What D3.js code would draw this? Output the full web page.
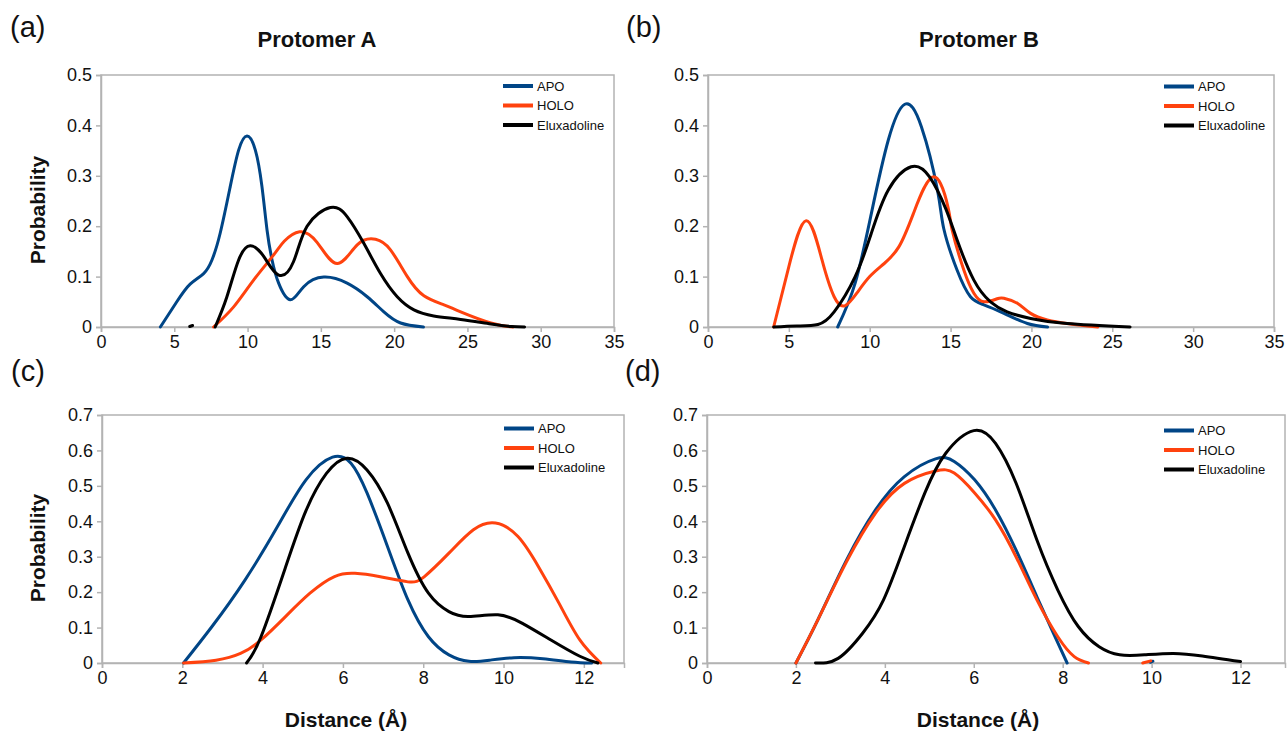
<!DOCTYPE html>
<html>
<head>
<meta charset="utf-8">
<script src="https://cdn.jsdelivr.net/npm/d3@7"></script>
<style>
  body { margin: 0; background: #fff; }
  text { font-family: "Liberation Sans", Arial, sans-serif; fill: #111; }
</style>
</head>
<body>
<script>
var seriesNames = ["APO", "HOLO", "Eluxadoline"];
var seriesColors = ["#004586", "#ff420e", "#000000"];

// (a) Protomer A, distance (A) vs probability
var apoA = [[4.05,0],[5.17,0.05],[6.08,0.085],[7.0,0.106],[7.57,0.133],[8.13,0.186],[8.82,0.279],[9.39,0.351],[9.96,0.379],[10.53,0.351],[10.98,0.279],[11.33,0.192],[11.67,0.133],[12.12,0.087],[12.92,0.054],[13.83,0.08],[15.2,0.099],[16.79,0.087],[18.16,0.06],[19.3,0.03],[20.44,0.008],[22.0,0]];
var holoA = [[7.68,0],[9.05,0.04],[10.41,0.093],[11.78,0.143],[12.5,0.17],[13.55,0.189],[14.74,0.168],[16.11,0.126],[17.48,0.163],[18.73,0.174],[19.75,0.153],[20.9,0.1],[22.03,0.062],[23.4,0.044],[24.54,0.03],[26.6,0.008],[28.1,0]];
var eluxA = [[7.79,0],[8.59,0.06],[9.39,0.133],[10.18,0.161],[11.1,0.14],[12.12,0.103],[13.14,0.13],[14.06,0.2],[15.65,0.237],[16.79,0.219],[17.93,0.166],[19.07,0.106],[20.21,0.06],[21.35,0.034],[22.7,0.022],[24.54,0.015],[26.6,0.006],[28.0,0.001],[28.9,0]];
var eluxAdot = [[6.05,0.001],[6.25,0.003]];

// (b) Protomer B
var apoB = [[8.02,0],[9.1,0.087],[10.1,0.225],[11.15,0.371],[12.17,0.442],[13.2,0.397],[14.2,0.27],[14.58,0.195],[15.4,0.113],[16.23,0.06],[17.06,0.044],[18.3,0.027],[19.75,0.007],[21,0]];
var holoB = [[4.06,0],[5.0,0.12],[6.07,0.211],[7.05,0.133],[7.8,0.06],[8.46,0.042],[9.2,0.067],[10,0.1],[10.9,0.126],[11.8,0.159],[12.7,0.225],[13.96,0.298],[14.86,0.235],[15.1,0.192],[15.82,0.113],[16.44,0.067],[17.06,0.05],[17.88,0.056],[18.3,0.057],[19.13,0.047],[19.95,0.027],[20.98,0.014],[22.2,0.007],[24.1,0]];
var eluxB = [[4.06,0],[5.5,0.002],[6.8,0.005],[7.8,0.03],[9.1,0.1],[10.1,0.186],[11.15,0.272],[12.56,0.318],[13.7,0.298],[14.7,0.235],[15.4,0.173],[16.44,0.093],[17.47,0.05],[18.5,0.03],[19.95,0.017],[22.2,0.007],[26.1,0]];

// (c)
var apoC = [[2.03,0],[2.74,0.103],[3.56,0.234],[4.37,0.385],[5.08,0.517],[5.74,0.581],[6.2,0.564],[6.6,0.48],[7.11,0.329],[7.62,0.178],[8.13,0.074],[8.64,0.023],[9.14,0.005],[9.65,0.008],[10.26,0.015],[10.98,0.012],[11.68,0.003],[12.2,0]];
var holoC = [[2.03,0],[2.84,0.008],[3.45,0.027],[3.96,0.065],[4.57,0.131],[5.18,0.197],[5.79,0.244],[6.3,0.253],[6.9,0.244],[7.62,0.229],[8.03,0.244],[8.64,0.31],[9.25,0.376],[9.8,0.395],[10.36,0.357],[10.87,0.272],[11.38,0.169],[11.9,0.065],[12.42,0]];
var eluxC = [[3.6,0],[3.96,0.074],[4.57,0.27],[5.08,0.43],[5.59,0.535],[6.1,0.578],[6.6,0.545],[7.11,0.451],[7.62,0.31],[8.13,0.197],[8.64,0.145],[9.14,0.131],[9.86,0.136],[10.47,0.112],[11.18,0.065],[11.9,0.019],[12.35,0]];

// (d)
var apoD = [[2,0],[2.49,0.121],[3.14,0.291],[3.79,0.432],[4.44,0.526],[5.14,0.576],[5.56,0.569],[6.02,0.517],[6.49,0.432],[6.95,0.319],[7.42,0.187],[7.79,0.084],[8.1,0]];
var apoDdot = [[9.97,0.002],[10.03,0.005]];
var holoD = [[2,0],[2.49,0.121],[3.14,0.286],[3.79,0.423],[4.44,0.507],[5.14,0.542],[5.56,0.536],[6.02,0.48],[6.49,0.404],[6.95,0.3],[7.42,0.178],[7.89,0.074],[8.26,0.018],[8.58,0]];
var holoDdot = [[9.8,0],[9.98,0.006]];
var eluxD = [[2.44,0],[2.95,0.013],[3.5,0.084],[3.97,0.178],[4.44,0.329],[4.9,0.48],[5.37,0.592],[6.0,0.656],[6.49,0.62],[6.95,0.508],[7.42,0.347],[7.89,0.206],[8.35,0.103],[8.82,0.046],[9.28,0.023],[9.84,0.023],[10.49,0.027],[11.14,0.02],[12.0,0.004]];

var xTicksAB = [0, 5, 10, 15, 20, 25, 30, 35];
var yTicksAB = [0, 0.1, 0.2, 0.3, 0.4, 0.5];
var xTicksCD = [0, 2, 4, 6, 8, 10, 12];
var yTicksCD = [0, 0.1, 0.2, 0.3, 0.4, 0.5, 0.6, 0.7];

var width = 1287, height = 731;

var panels = [
  { label: "(a)", title: "Protomer A", titleX: 317, yTitle: true, xTitle: false, box: [101, 75, 614, 327],
    xMax: 35, yMax: 0.5, xTicks: xTicksAB, yTicks: yTicksAB, legendX: 503, legendY: 86, legendGap: 19.5,
    lines: [[0, apoA], [1, holoA], [2, eluxA], [2, eluxAdot]] },
  { label: "(b)", title: "Protomer B", titleX: 979, yTitle: false, xTitle: false, box: [708, 75, 1274, 327],
    xMax: 35, yMax: 0.5, xTicks: xTicksAB, yTicks: yTicksAB, legendX: 1164, legendY: 86.5, legendGap: 19.5,
    lines: [[0, apoB], [1, holoB], [2, eluxB]] },
  { label: "(c)", title: null, yTitle: true, xTitle: true, xTitleX: 346, box: [102, 415, 624, 663],
    xMax: 13, yMax: 0.7, xTicks: xTicksCD, yTicks: yTicksCD, legendX: 504, legendY: 428.5, legendGap: 19.5,
    lines: [[0, apoC], [1, holoC], [2, eluxC]] },
  { label: "(d)", title: null, yTitle: false, xTitle: true, xTitleX: 978, box: [707, 415, 1285, 663],
    xMax: 13, yMax: 0.7, xTicks: xTicksCD, yTicks: yTicksCD, legendX: 1164, legendY: 430.5, legendGap: 19.5,
    lines: [[0, apoD], [0, apoDdot], [1, holoD], [1, holoDdot], [2, eluxD]] }
];

var svg = d3.select("body").append("svg")
    .attr("width", width)
    .attr("height", height);

panels.forEach(function(p) {
    var x0 = p.box[0], y0 = p.box[1], x1 = p.box[2], y1 = p.box[3];

    var x = d3.scaleLinear().domain([0, p.xMax]).range([x0, x1]);
    var y = d3.scaleLinear().domain([0, p.yMax]).range([y1, y0]);

    var g = svg.append("g");

    // plot frame
    g.append("rect")
        .attr("x", x0).attr("y", y0)
        .attr("width", x1 - x0).attr("height", y1 - y0)
        .attr("fill", "none")
        .attr("stroke", "#b3b3b3")
        .attr("stroke-width", 1.5);

    var xAxis = g.append("g")
        .attr("transform", "translate(0," + y1 + ")")
        .call(d3.axisBottom(x).tickValues(p.xTicks).tickSize(5).tickPadding(3).tickFormat(d3.format("d")));
    var yAxis = g.append("g")
        .attr("transform", "translate(" + x0 + ",0)")
        .call(d3.axisLeft(y).tickValues(p.yTicks).tickSize(5).tickPadding(4)
            .tickFormat(function(d) { return d === 0 ? "0" : d3.format(".1f")(d); }));

    [xAxis, yAxis].forEach(function(a) {
        a.select(".domain").attr("stroke", "#b3b3b3").attr("stroke-width", 1.5);
        a.selectAll(".tick line").attr("stroke", "#b3b3b3").attr("stroke-width", 1.5);
        a.selectAll(".tick text")
            .attr("fill", "#222")
            .style("font-family", "'Liberation Sans', Arial, sans-serif")
            .style("font-size", "18px");
    });

    var line = d3.line()
        .x(function(d) { return x(d[0]); })
        .y(function(d) { return y(Math.max(d[1], 0)); })
        .curve(d3.curveNatural);

    p.lines.forEach(function(l) {
        g.append("path")
            .attr("d", line(l[1]))
            .attr("fill", "none")
            .attr("stroke", seriesColors[l[0]])
            .attr("stroke-width", 3)
            .attr("stroke-linecap", "round")
            .attr("stroke-linejoin", "round");
    });

    // legend
    var lg = g.append("g").attr("transform", "translate(" + p.legendX + "," + p.legendY + ")");
    seriesNames.forEach(function(name, i) {
        lg.append("line")
            .attr("x1", 0).attr("x2", 30)
            .attr("y1", i * p.legendGap).attr("y2", i * p.legendGap)
            .attr("stroke", seriesColors[i])
            .attr("stroke-width", 4);
        lg.append("text")
            .attr("x", 34)
            .attr("y", i * p.legendGap)
            .attr("dy", "0.35em")
            .style("font-size", "13px")
            .text(name);
    });

    // panel letter
    svg.append("text")
        .attr("x", x0 - 92 + (x0 > 600 ? 10 : 1))
        .attr("y", y0 - (p.title ? 38 : 34))
        .style("font-size", "29px")
        .text(p.label);

    if (p.title) {
        svg.append("text")
            .attr("x", p.titleX)
            .attr("y", 47)
            .attr("text-anchor", "middle")
            .style("font-size", "22px")
            .style("font-weight", "bold")
            .text(p.title);
    }

    if (p.yTitle) {
        svg.append("text")
            .attr("transform", "translate(45," + ((y0 + y1) / 2 + 9) + ") rotate(-90)")
            .attr("text-anchor", "middle")
            .style("font-size", "21px")
            .style("font-weight", "bold")
            .text("Probability");
    }

    if (p.xTitle) {
        svg.append("text")
            .attr("x", p.xTitleX)
            .attr("y", 727)
            .attr("text-anchor", "middle")
            .style("font-size", "21px")
            .style("font-weight", "bold")
            .text("Distance (Å)");
    }
});
</script>
</body>
</html>
